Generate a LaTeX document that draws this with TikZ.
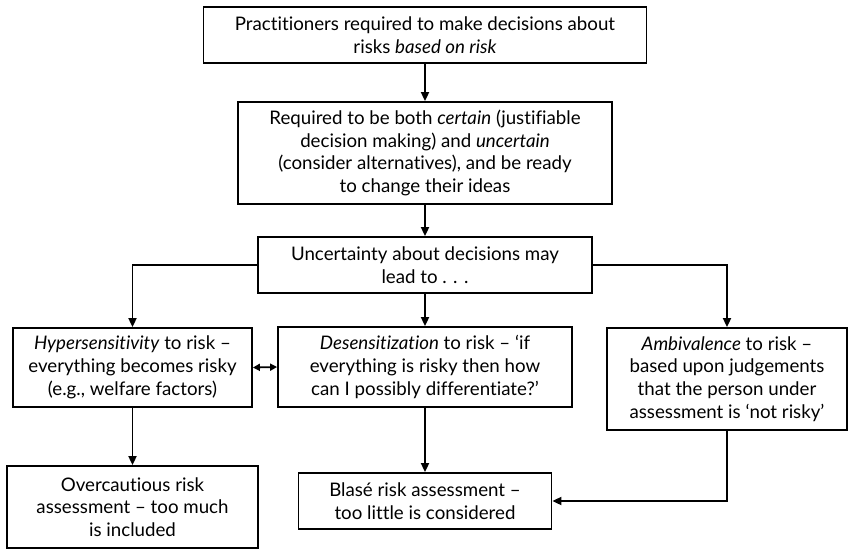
\documentclass[tikz,border=0pt]{standalone}
\usepackage{fontspec}
\setmainfont{Lato}[Ligatures=NoCommon]
\usetikzlibrary{arrows.meta}
\begin{document}
\begin{tikzpicture}[x=1pt,y=-1pt,
  box/.style={draw,line width=1.8pt,align=center,inner sep=0pt,font=\fontsize{18.7}{22.7}\selectfont},
  arr/.style={line width=1.8pt,-{Triangle[length=9pt,width=8pt]}},
  darr/.style={line width=1.8pt,{Triangle[length=7pt,width=7pt]}-{Triangle[length=7pt,width=7pt]}}]
\useasboundingbox (0,0) rectangle (848,551);
\node[box,minimum width=443pt,minimum height=56pt] (b1) at (425,35)
  {Practitioners required to make decisions about\\risks \textit{based on risk}};
\node[box,minimum width=374pt,minimum height=102pt] (b2) at (425,153)
  {Required to be both \textit{certain} (justifiable\\decision making) and \textit{uncertain}\\(consider alternatives), and be ready\\to change their ideas};
\node[box,minimum width=334pt,minimum height=56pt] (b3) at (425,265)
  {Uncertainty about decisions may\\lead to . . .};
\node[box,minimum width=239pt,minimum height=79pt] (hy) at (132.5,367.5)
  {\textit{Hypersensitivity} to risk --\\everything becomes risky\\(e.g., welfare factors)};
\node[box,minimum width=294pt,minimum height=80pt] (de) at (425,367)
  {\textit{Desensitization} to risk -- `if\\everything is risky then how\\can I possibly differentiate?'};
\node[box,minimum width=240pt,minimum height=102pt] (am) at (727,379)
  {\textit{Ambivalence} to risk --\\based upon judgements\\that the person under\\assessment is `not risky'};
\node[box,minimum width=251pt,minimum height=82pt] (ov) at (132.5,507)
  {Overcautious risk\\assessment -- too much\\is included};
\node[box,minimum width=253pt,minimum height=56pt] (bl) at (425,501)
  {Blasé risk assessment --\\too little is considered};
\draw[arr] (b1) -- (b2);
\draw[arr] (b2) -- (b3);
\draw[arr] (b3) -- (de);
\draw[arr] (b3.west) -| (hy.north);
\draw[arr] (b3.east) -| (am.north);
\draw[arr] (hy) -- (ov);
\draw[arr] (de) -- (bl);
\draw[arr] (am.south) |- (bl.east);
\draw[darr] (hy.east) -- (de.west);
\end{tikzpicture}
\end{document}
